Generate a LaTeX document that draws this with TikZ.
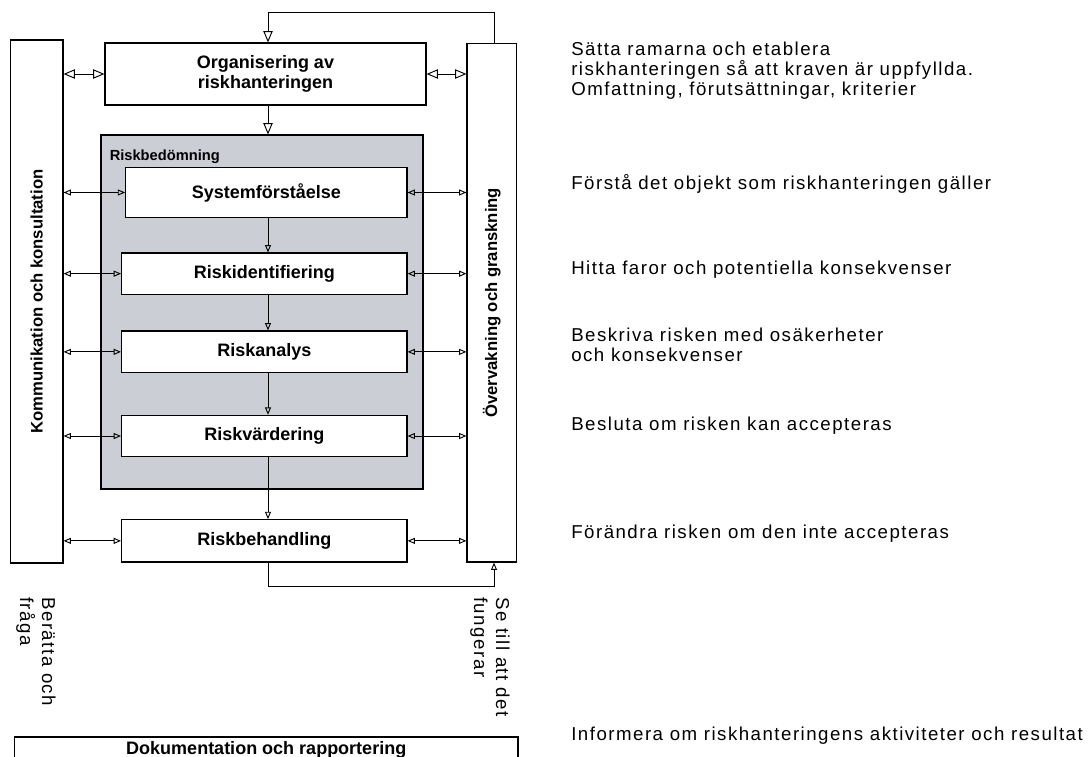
\documentclass[tikz,border=0pt]{standalone}
\usepackage{fontspec}
\setmainfont{Liberation Sans}
\newfontfamily\notefont{Liberation Sans}[LetterSpace=8]
\usetikzlibrary{arrows.meta,positioning}

\definecolor{assessgray}{RGB}{204,206,213}

\tikzset{
  stage/.style={
    draw,
    fill=white,
    line width=0.85pt,
    inner sep=0pt,
    align=center,
    font=\bfseries\fontsize{13.5}{15.5}\selectfont
  },
  sidebar/.style={
    draw,
    fill=white,
    line width=0.85pt,
    inner sep=0pt
  },
  sidelabel/.style={
    inner sep=0pt,
    font=\bfseries\fontsize{12.5}{15}\selectfont
  },
  assess/.style={
    draw,
    fill=assessgray,
    line width=0.85pt,
    inner sep=0pt
  },
  note/.style={
    anchor=west,
    align=left,
    inner sep=0pt,
    font=\notefont\fontsize{14}{15}\selectfont
  },
  turned/.style={
    rotate=-90,
    anchor=north west,
    align=left,
    inner sep=0pt,
    font=\notefont\fontsize{14}{16.5}\selectfont
  },
  link/.style={
    line width=0.7pt,
    >={Triangle[open, length=5.5pt, width=4.5pt]}
  },
  biglink/.style={
    line width=0.7pt,
    >={Triangle[open, length=8.5pt, width=7pt]}
  }
}

\begin{document}
\begin{tikzpicture}[x=0.75pt, y=-0.75pt]
  \def\pxu{0.75pt}
  \useasboundingbox (0,0) rectangle (1090,757);

  % side bars
  \node[sidebar, minimum width=52.5*\pxu, minimum height=523*\pxu] (komm) at (36.75,301.5) {};
  \node[sidelabel, rotate=90] (kommtext) at (komm) {Kommunikation och konsultation};
  \node[sidebar, minimum width=49.5*\pxu, minimum height=518.5*\pxu] (overv) at (491.75,302.75) {};
  \node[sidelabel, rotate=90] (overvtext) at (overv) {Övervakning och granskning};

  % top box and assessment block
  \node[stage, minimum width=321*\pxu, minimum height=62*\pxu] (org) at (265.5,74) {Organisering av\\riskhanteringen};
  \node[assess, minimum width=322*\pxu, minimum height=354*\pxu] (bedom) at (262,312) {};
  \node[anchor=west, inner sep=0pt, font=\bfseries\fontsize{11}{12}\selectfont] (bedomtext) at (109.5,157) {Riskbedömning};

  \node[stage, minimum width=281.3*\pxu, minimum height=50*\pxu] (sys) at (266.35,192.5) {Systemförståelse};
  \node[stage, minimum width=285.4*\pxu, minimum height=41.3*\pxu] (ident) at (264.3,273.65) {Riskidentifiering};
  \node[stage, minimum width=285.4*\pxu, minimum height=41.7*\pxu] (analys) at (264.3,351.85) {Riskanalys};
  \node[stage, minimum width=285.4*\pxu, minimum height=41.3*\pxu] (vard) at (264.3,436) {Riskvärdering};
  \node[stage, minimum width=285.4*\pxu, minimum height=42.3*\pxu] (behand) at (264.3,540.85) {Riskbehandling};

  \node[stage, minimum width=503.5*\pxu, minimum height=26*\pxu] (doc) at (266.25,750) {Dokumentation och rapportering};

  % helper coordinates
  \coordinate (mid) at (268,0);
  \coordinate (fbx) at (494,0);
  \coordinate (fbtop) at (0,12.7);
  \coordinate (fbbot) at (0,586);

  % flow
  \draw[biglink, ->] (org.south -| mid) -- (bedom.north -| mid);
  \draw[link, ->] (sys.south -| mid) -- (ident.north -| mid);
  \draw[link, ->] (ident.south -| mid) -- (analys.north -| mid);
  \draw[link, ->] (analys.south -| mid) -- (vard.north -| mid);
  \draw[link, ->] (vard.south -| mid) -- (behand.north -| mid);

  % feedback loops
  \draw[biglink, ->] (overv.north -| fbx) |- (fbtop -| mid) -- (org.north -| mid);
  \draw[link, ->] (behand.south -| mid) |- (fbbot -| fbx) -- (overv.south -| fbx);

  % exchange with the side bars
  \draw[biglink, <->] (org.west -| komm.east) -- (org.west);
  \draw[biglink, <->] (org.east) -- (org.east -| overv.west);
  \foreach \b in {sys, ident, analys, vard, behand}{
    \draw[link, <->] (\b.west -| komm.east) -- (\b.west);
    \draw[link, <->] (\b.east) -- (\b.east -| overv.west);
  }

  % lower notes
  \node[turned] (berat) at (56,597) {Berätta och\\fråga};
  \node[turned] (setill) at (510,597) {Se till att det\\fungerar};

  % descriptions
  \node[note] (n1) at (571,71) {Sätta ramarna och etablera\\riskhanteringen så att kraven är uppfyllda.\\Omfattning, förutsättningar, kriterier};
  \node[note] (n2) at (571,184) {Förstå det objekt som riskhanteringen gäller};
  \node[note] (n3) at (571,270) {Hitta faror och potentiella konsekvenser};
  \node[note] (n4) at (571,345) {Beskriva risken med osäkerheter\\och konsekvenser};
  \node[note] (n5) at (571,426) {Besluta om risken kan accepteras};
  \node[note] (n6) at (571,534) {Förändra risken om den inte accepteras};
  \node[note] (n7) at (571,736) {Informera om riskhanteringens aktiviteter och resultat};
\end{tikzpicture}
\end{document}
